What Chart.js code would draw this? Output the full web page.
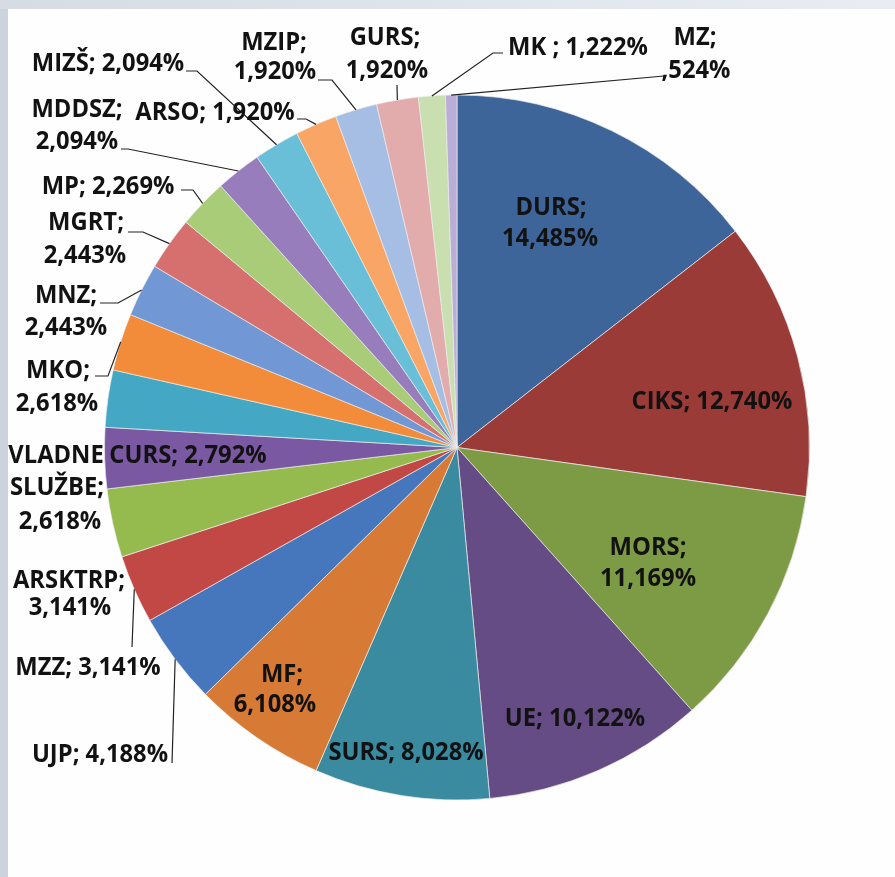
<!DOCTYPE html>
<html>
<head>
<meta charset="utf-8">
<script src="https://cdn.jsdelivr.net/npm/chart.js@4"></script>
<style>
    html, body {
        margin: 0;
        padding: 0;
        width: 895px;
        height: 877px;
        overflow: hidden;
        background: #cdd3dd;
    }
    .top-strip {
        position: absolute;
        left: 0;
        top: 0;
        width: 895px;
        height: 9px;
        background: linear-gradient(90deg, #d6dbe4 0%, #e2e6ee 60%, #e9ecf2 100%);
    }
    .panel {
        position: absolute;
        left: 8px;
        top: 9px;
        width: 887px;
        height: 868px;
        background: #fefefe;
    }
    #pie-chart {
        position: absolute;
        left: 0;
        top: 0;
    }
</style>
</head>
<body>
<div class="top-strip"></div>
<div class="panel"></div>
<canvas id="pie-chart" width="895" height="877"></canvas>

<script>
/*--------------------------------------------------------------
| Data
--------------------------------------------------------------*/
const categories = [
    "DURS", "CIKS", "MORS", "UE", "SURS", "MF", "UJP", "MZZ", "ARSKTRP",
    "CURS", "VLADNE SLUŽBE", "MKO", "MNZ", "MGRT", "MP", "MDDSZ", "MIZŠ",
    "ARSO", "MZIP", "GURS", "MK ", "MZ",
];

const shares = [
    14.485, 12.740, 11.169, 10.122, 8.028, 6.108, 4.188, 3.141, 3.141,
    2.792, 2.618, 2.618, 2.443, 2.443, 2.269, 2.094, 2.094,
    1.920, 1.920, 1.920, 1.222, 0.524,
];

const sliceColors = [
    "#3d6599", "#9b3b38", "#7d9a45", "#654c84", "#3a8aa0", "#d77a35",
    "#4677bd", "#c24846", "#95bb4f", "#7a58a2", "#44a8c5", "#f28c3a",
    "#7197d4", "#d6706e", "#a9cc78", "#977dbb", "#6abfd8", "#f9a566",
    "#a6bee4", "#e3acac", "#cadfb0", "#baaed6",
];

/*--------------------------------------------------------------
| Label placement (text line centres + leader start points)
--------------------------------------------------------------*/
const labelLayout = [
    { lines: [[551, 207], [550, 238]] },                                   // DURS
    { lines: [[712, 401]] },                                               // CIKS
    { lines: [[648, 547], [648, 578]] },                                   // MORS
    { lines: [[575, 718]] },                                               // UE
    { lines: [[406, 752]] },                                               // SURS
    { lines: [[282, 674], [275, 704]] },                                   // MF
    { lines: [[100, 754]], leader: [[172, 763]] },                         // UJP
    { lines: [[88, 667]], leader: [[132, 647]] },                          // MZZ
    { lines: [[69, 580], [70, 607]] },                                     // ARSKTRP
    { lines: [[188, 455]] },                                               // CURS
    { lines: [[56, 455], [57, 487], [60, 521]] },                          // VLADNE SLUŽBE
    { lines: [[58, 370], [57, 403]], leader: [[95, 376], [108, 376]] },    // MKO
    { lines: [[66, 295], [66, 327]], leader: [[100, 303], [118, 303]] },   // MNZ
    { lines: [[86, 222], [85, 255]], leader: [[128, 232], [143, 232]] },   // MGRT
    { lines: [[108, 186]], leader: [[181, 190], [193, 190]] },             // MP
    { lines: [[77, 109], [77, 141]], leader: [[121, 149], [128, 149]] },   // MDDSZ
    { lines: [[108, 63]], leader: [[186, 71], [197, 71]] },                // MIZŠ
    { lines: [[215, 112]], leader: [[297, 119], [306, 119]] },             // ARSO
    { lines: [[274, 42], [275, 71]], leader: [[318, 80], [332, 80]] },     // MZIP
    { lines: [[385, 37], [387, 70]], leader: [[397, 85]] },                // GURS
    { lines: [[578, 47]], leader: [[503, 53], [493, 53]] },                // MK
    { lines: [[695, 37], [696, 70]], leader: [[664, 76]] },                // MZ
];

const labelFont = "bold 25px 'Open Sans'";
const textSqueeze = 0.95;

function formatShare(v) {
    // Excel style: comma decimals, no leading zero
    return v.toFixed(3).replace(".", ",").replace(/^0,/, ",") + "%";
}

function labelLines(i, count) {
    const name = categories[i];
    const val = formatShare(shares[i]);
    if (count === 1) {
        return [name + "; " + val];
    }
    if (count === 2) {
        return [name + ";", val];
    }
    const words = name.split(" ");
    words[words.length - 1] += ";";
    return [...words, val];
}

/*--------------------------------------------------------------
| Plugin: data labels and leader lines
--------------------------------------------------------------*/
const sliceLabels = {
    id: "sliceLabels",
    afterDatasetsDraw(chart) {
        const ctx = chart.ctx;
        const meta = chart.getDatasetMeta(0);

        meta.data.forEach((arc, i) => {
            const lay = labelLayout[i];
            const p = arc.getProps(["x", "y", "startAngle", "endAngle", "outerRadius"], true);
            const mid = (p.startAngle + p.endAngle) / 2;

            if (lay.leader) {
                const ex = p.x + Math.cos(mid) * p.outerRadius;
                const ey = p.y + Math.sin(mid) * p.outerRadius;
                ctx.save();
                ctx.strokeStyle = "#222";
                ctx.lineWidth = 1.2;
                ctx.beginPath();
                ctx.moveTo(lay.leader[0][0], lay.leader[0][1]);
                lay.leader.slice(1).forEach((pt) => ctx.lineTo(pt[0], pt[1]));
                ctx.lineTo(ex, ey);
                ctx.stroke();
                ctx.restore();
            }

            const lines = labelLines(i, lay.lines.length);
            lines.forEach((txt, k) => {
                ctx.save();
                ctx.font = labelFont;
                ctx.fillStyle = "#121212";
                ctx.textAlign = "center";
                ctx.textBaseline = "middle";
                ctx.translate(lay.lines[k][0], lay.lines[k][1]);
                ctx.scale(textSqueeze, 1);
                ctx.fillText(txt, 0, 1);
                ctx.restore();
            });
        });
    },
};

/*--------------------------------------------------------------
| Pie Chart Initialization
--------------------------------------------------------------*/
function pieChart() {
    const ctx = document.getElementById("pie-chart").getContext("2d");

    new Chart(ctx, {
        type: "pie",
        data: {
            labels: categories,
            datasets: [
                {
                    data: shares,
                    backgroundColor: sliceColors,
                    borderColor: "rgba(235,235,235,0.7)",
                    borderWidth: 1,
                    radius: 352.5,
                },
            ],
        },
        options: {
            responsive: false,
            animation: false,
            layout: {
                padding: { left: 104.5, right: 85.5, top: 95, bottom: 77 },
            },
            plugins: {
                legend: { display: false },
                tooltip: { enabled: false },
            },
        },
        plugins: [sliceLabels],
    });
}

document.fonts.load(labelFont).then(pieChart, pieChart);
</script>
</body>
</html>
